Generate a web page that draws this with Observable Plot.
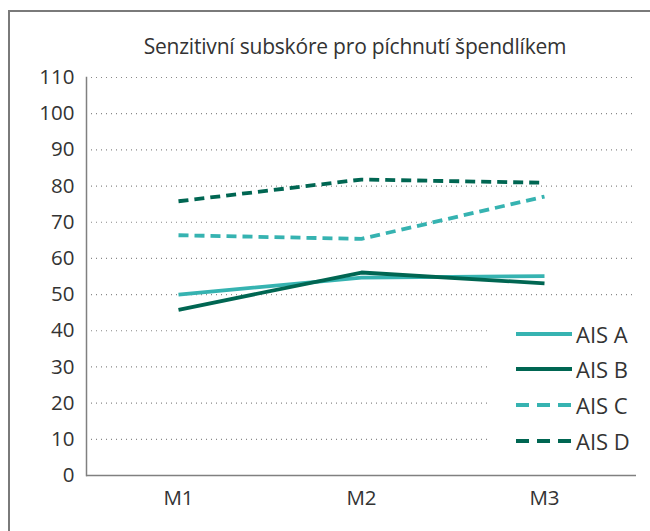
<!DOCTYPE html>
<html>
<head>
<meta charset="utf-8">
<script src="https://cdn.jsdelivr.net/npm/d3@7"></script>
<script src="https://cdn.jsdelivr.net/npm/@observablehq/plot@0.6"></script>
<style>
  html, body { margin: 0; padding: 0; background: #fff; }
  body { width: 650px; height: 531px; position: relative; overflow: hidden; font-family: "Open Sans", sans-serif; color: #333; }
  #frame { position: absolute; left: 8px; top: 10px; width: 700px; height: 600px; border: 2px solid #7a7a7a; box-sizing: border-box; }
  #title { position: absolute; left: 0; width: 710px; top: 32px; text-align: center; font-size: 21px; color: #333; letter-spacing: -0.2px; }
  #chart { position: absolute; left: 0; top: 0; }
  #legend { position: absolute; left: 490px; top: 316px; width: 146px; background: #fff; }
  .item { display: flex; align-items: center; height: 35.6px; font-size: 22px; color: #333; }
  .item svg { margin-left: 26px; margin-right: 4px; }
  #chart svg text { font-size: 20.5px; }
</style>
</head>
<body>
<div id="frame"></div>
<div id="title">Senzitivní subskóre pro píchnutí špendlíkem</div>
<div id="chart"></div>
<div id="legend"></div>
<script>
const categories = ["M1", "M2", "M3"];
const seriesNames = ["AIS A", "AIS B", "AIS C", "AIS D"];
const aisA = [50.0, 54.7, 55.1];
const aisB = [45.8, 56.1, 53.1];
const aisC = [66.4, 65.4, 77.1];
const aisD = [75.8, 81.8, 80.9];
const yTicks = [0, 10, 20, 30, 40, 50, 60, 70, 80, 90, 100, 110];

const colors = {"AIS A": "#36b3b1", "AIS B": "#006652", "AIS C": "#36b3b1", "AIS D": "#006652"};
const dashes = {"AIS A": null, "AIS B": null, "AIS C": "10,6", "AIS D": "10,6"};

const valuesBySeries = {"AIS A": aisA, "AIS B": aisB, "AIS C": aisC, "AIS D": aisD};
const data = seriesNames.flatMap(s => categories.map((c, i) => ({series: s, cat: c, value: valuesBySeries[s][i]})));

const marks = [
  Plot.gridY(yTicks, {stroke: "#888", strokeOpacity: 1, strokeDasharray: "1,4", strokeWidth: 1.2}),
  Plot.ruleY([0], {stroke: "#808080", strokeWidth: 1.5}),
  Plot.frame({anchor: "left", stroke: "#808080", strokeWidth: 1.5}),
  Plot.axisY(yTicks, {tickSize: 0, tickPadding: 12, fill: "#333"}),
  Plot.axisX({tickSize: 0, tickPadding: 15, fill: "#333"})
];
for (const s of seriesNames) {
  marks.push(Plot.lineY(data.filter(d => d.series === s), {
    x: "cat", y: "value", stroke: colors[s], strokeWidth: 3.8,
    strokeDasharray: dashes[s] || undefined, strokeLinecap: "butt"
  }));
}

const chart = Plot.plot({
  width: 650,
  height: 531,
  marginLeft: 86,
  marginRight: 14,
  marginTop: 77,
  marginBottom: 56,
  style: {fontFamily: "'Open Sans', sans-serif", fontSize: "20.5px", background: "transparent", color: "#333"},
  x: {type: "point", domain: categories, padding: 0.5, label: null},
  y: {domain: [0, 110], label: null},
  marks
});
document.getElementById("chart").appendChild(chart);

const legend = document.getElementById("legend");
for (const s of seriesNames) {
  const item = document.createElement("div");
  item.className = "item";
  const dash = dashes[s] ? `stroke-dasharray="13,8"` : "";
  item.innerHTML = `<svg width="56" height="10"><line x1="0" y1="5" x2="56" y2="5" stroke="${colors[s]}" stroke-width="3.8" ${dash}/></svg><span>${s}</span>`;
  legend.appendChild(item);
}
</script>
</body>
</html>
